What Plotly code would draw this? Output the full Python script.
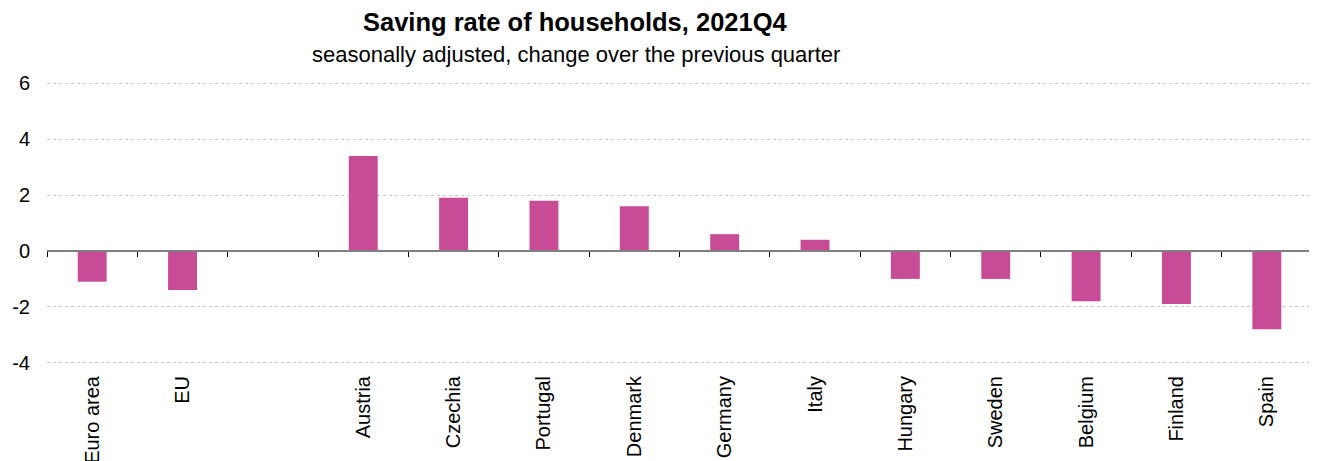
import plotly.graph_objects as go

categories = ["Euro area", "EU", " ", "Austria", "Czechia", "Portugal", "Denmark",
              "Germany", "Italy", "Hungary", "Sweden", "Belgium", "Finland", "Spain"]
values = [-1.1, -1.4, None, 3.4, 1.9, 1.8, 1.6, 0.6, 0.4, -1.0, -1.0, -1.8, -1.9, -2.8]
y_ticks = [-4, -2, 0, 2, 4, 6]
y_tick_labels = ["-4", "-2", "0", "2", "4", "6"]
title_text = "Saving rate of households, 2021Q4"
subtitle_text = "seasonally adjusted, change over the previous quarter"

FONT = "Liberation Sans, Arial, sans-serif"
BAR_COLOR = "#C84C95"

# page body has an 8px margin; size the figure so it fits the 1317x461 window
W, H = 1309, 453
PAD = 0.08                      # data units of padding so edge gridlines get drawn
PX_PER_UNIT = 28.0
L, R = 39, 5
T = 75 - PAD * PX_PER_UNIT
B = 98 - PAD * PX_PER_UNIT

fig = go.Figure()
fig.add_trace(go.Bar(x=categories, y=values, marker_color=BAR_COLOR,
                     marker_line_width=0, xaxis="x", yaxis="y", hoverinfo="x+y"))

y_min, y_max = -4 - PAD, 6 + PAD
plot_w = W - L - R
fig.update_layout(
    width=W, height=H,
    margin=dict(l=L, r=R, t=T, b=B, autoexpand=False),
    paper_bgcolor="white", plot_bgcolor="white",
    showlegend=False,
    bargap=0.68,
    font=dict(family=FONT, size=20, color="#000000"),
    xaxis=dict(type="category", categoryorder="array", categoryarray=categories,
               showline=False, showgrid=False, zeroline=False, ticks="",
               tickangle=-90, tickfont=dict(size=20), ticklabelstandoff=6,
               automargin=False, range=[-0.5, len(categories) - 0.5]),
    xaxis2=dict(matches="x", overlaying="x", anchor="free", position=(0 - y_min) / (y_max - y_min),
                type="category", categoryorder="array", categoryarray=categories,
                showline=True, linecolor="#808080", linewidth=2,
                ticks="outside", ticklen=5, tickcolor="#000000", tickwidth=1,
                tickson="boundaries", showticklabels=False, showgrid=False, zeroline=False,
                automargin=False),
    yaxis=dict(range=[y_min, y_max], tickvals=y_ticks, ticktext=y_tick_labels,
               showline=False, zeroline=False, automargin=False,
               showgrid=True, gridcolor="#c8c8c8", griddash="dot", gridwidth=1,
               tickfont=dict(size=20), ticks="", ticklabelstandoff=16),
    annotations=[
        dict(text="<b>" + title_text + "</b>", xref="paper", yref="paper",
             x=(575 - 8 - L) / plot_w, y=1, yshift=T - 14, xanchor="center", yanchor="middle",
             showarrow=False, font=dict(size=25.5, family=FONT, color="#000000")),
        dict(text=subtitle_text, xref="paper", yref="paper",
             x=(576 - 8 - L) / plot_w, y=1, yshift=T - 46, xanchor="center", yanchor="middle",
             showarrow=False, font=dict(size=22, family=FONT, color="#000000")),
    ],
)
# invisible trace to activate xaxis2
fig.add_trace(go.Bar(x=categories, y=[None] * len(categories), xaxis="x2", yaxis="y",
                     showlegend=False, hoverinfo="skip"))

fig.write_html("out.html")
